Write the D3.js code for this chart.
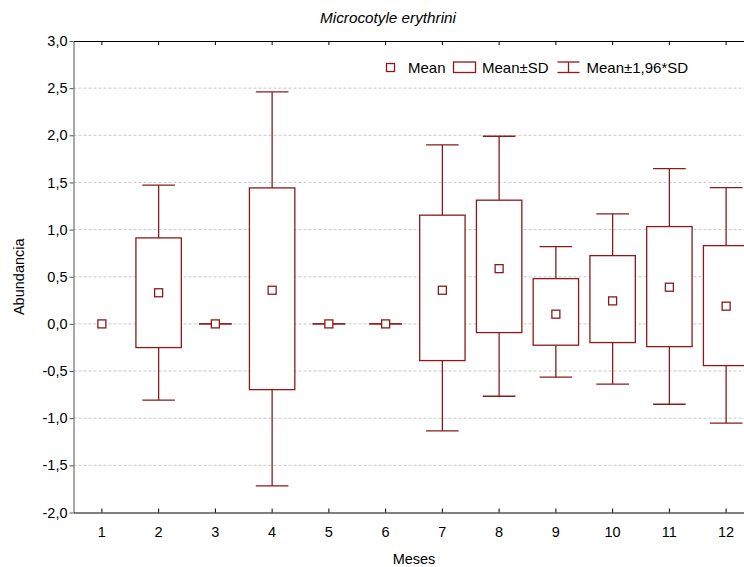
<!DOCTYPE html>
<html>
<head>
<meta charset="utf-8">
<script src="https://cdn.jsdelivr.net/npm/d3@7"></script>
<style>
body { margin: 0; background: #fff; }
text { font-family: "Liberation Sans", Arial, sans-serif; fill: #000; }
</style>
</head>
<body>
<svg id="graph" width="744" height="567"></svg>
<script>
// values
var months = ["1", "2", "3", "4", "5", "6", "7", "8", "9", "10", "11", "12"];
var means  = [0, 0.33, 0, 0.357, 0, 0, 0.357, 0.586, 0.103, 0.244, 0.389, 0.188];
var sdLow  = [null, -0.251, 0, -0.697, 0, 0, -0.389, -0.092, -0.226, -0.198, -0.241, -0.442];
var sdHigh = [null, 0.912, 0, 1.442, 0, 0, 1.153, 1.312, 0.48, 0.724, 1.032, 0.83];
var ciLow  = [null, -0.809, 0, -1.718, 0, 0, -1.135, -0.767, -0.565, -0.639, -0.852, -1.053];
var ciHigh = [null, 1.471, 0, 2.46, 0, 0, 1.898, 1.99, 0.82, 1.166, 1.647, 1.445];
var yTicks = [3, 2.5, 2, 1.5, 1, 0.5, 0, -0.5, -1, -1.5, -2];

var RED = "#8b1a1a";
var svg = d3.select("#graph");
var pLeft = 73.5, pTop = 41, pBottom = 512.5, pRight = 754.5;

var x = d3.scaleBand().domain(months).range([pLeft, pRight]);
var y = d3.scaleLinear().domain([-2, 3]).range([pBottom, pTop]);
var fmt = function(d) { return d3.format(".1f")(d).replace(".", ",").replace("−", "-"); };

var dat = months.map(function(m, i) {
    return {m: m, mean: means[i], lo: sdLow[i], hi: sdHigh[i], clo: ciLow[i], chi: ciHigh[i]};
});

// grid
svg.append("g")
    .selectAll("line")
    .data(yTicks.filter(function(d) { return d > -2 && d < 3; }))
    .enter()
    .append("line")
    .attr("x1", pLeft).attr("x2", 744)
    .attr("y1", function(d) { return y(d); })
    .attr("y2", function(d) { return y(d); })
    .attr("stroke", "#c8c8c8")
    .attr("stroke-dasharray", "3,2");

// y axis
var yAxis = svg.append("g")
    .attr("transform", "translate(" + pLeft + ",0)")
    .call(d3.axisLeft(y).tickValues(yTicks).tickFormat(fmt).tickSize(4).tickSizeOuter(0));
yAxis.select(".domain").attr("stroke", "#555");
yAxis.selectAll(".tick line").attr("stroke", "#555");
yAxis.selectAll("text").style("font-size", "14.5px").attr("x", -6).attr("fill", "#000");

// top and bottom frame with inward ticks
var topAxis = svg.append("g")
    .attr("transform", "translate(0," + pTop + ")")
    .call(d3.axisBottom(x).tickSize(4).tickSizeOuter(0).tickFormat(""));
var botAxis = svg.append("g")
    .attr("transform", "translate(0," + pBottom + ")")
    .call(d3.axisTop(x).tickSize(4).tickSizeOuter(0).tickFormat(""));
[topAxis, botAxis].forEach(function(a) {
    a.select(".domain").attr("stroke", "#000");
    a.selectAll(".tick line").attr("stroke", "#000");
});

// x labels
svg.append("g")
    .selectAll("text")
    .data(months)
    .enter()
    .append("text")
    .attr("x", function(d) { return x(d) + x.bandwidth() / 2; })
    .attr("y", 537)
    .attr("text-anchor", "middle")
    .style("font-size", "14.5px")
    .text(function(d) { return d; });

var bw = x.bandwidth() * 0.8, cw = x.bandwidth() * 0.575, ms = 8;
var cx = function(d) { return x(d.m) + x.bandwidth() / 2; };
var withSd = dat.filter(function(d) { return d.lo !== null; });

var g = svg.append("g").attr("stroke", RED).attr("stroke-width", 1.3).attr("fill", "none");

// whiskers
g.selectAll("line.stem")
    .data(withSd)
    .enter()
    .append("line")
    .attr("x1", cx).attr("x2", cx)
    .attr("y1", function(d) { return y(d.chi); })
    .attr("y2", function(d) { return y(d.clo); });
g.selectAll("line.capHi")
    .data(withSd)
    .enter()
    .append("line")
    .attr("x1", function(d) { return cx(d) - cw / 2; })
    .attr("x2", function(d) { return cx(d) + cw / 2; })
    .attr("y1", function(d) { return y(d.chi); })
    .attr("y2", function(d) { return y(d.chi); });
g.selectAll("line.capLo")
    .data(withSd)
    .enter()
    .append("line")
    .attr("x1", function(d) { return cx(d) - cw / 2; })
    .attr("x2", function(d) { return cx(d) + cw / 2; })
    .attr("y1", function(d) { return y(d.clo); })
    .attr("y2", function(d) { return y(d.clo); });

// boxes
g.selectAll("rect.box")
    .data(withSd)
    .enter()
    .append("rect")
    .attr("x", function(d) { return cx(d) - bw / 2; })
    .attr("width", bw)
    .attr("y", function(d) { return y(d.hi); })
    .attr("height", function(d) { return y(d.lo) - y(d.hi); })
    .attr("fill", "#fff");

// means
g.selectAll("rect.mean")
    .data(dat)
    .enter()
    .append("rect")
    .attr("x", function(d) { return cx(d) - ms / 2; })
    .attr("y", function(d) { return y(d.mean) - ms / 2; })
    .attr("width", ms)
    .attr("height", ms)
    .attr("fill", "#fff");

// titles
svg.append("text")
    .attr("x", 388).attr("y", 23)
    .attr("text-anchor", "middle")
    .attr("textLength", 136).attr("lengthAdjust", "spacingAndGlyphs")
    .style("font-size", "14.5px").style("font-style", "italic")
    .text("Microcotyle erythrini");
svg.append("text")
    .attr("x", 414).attr("y", 564)
    .attr("text-anchor", "middle")
    .style("font-size", "14.5px")
    .text("Meses");
svg.append("text")
    .attr("transform", "translate(24," + ((pTop + pBottom) / 2) + ") rotate(-90)")
    .attr("text-anchor", "middle")
    .style("font-size", "14.5px")
    .text("Abundancia");

// legend
var lg = svg.append("g");
lg.append("rect").attr("x", 386.5).attr("y", 63.5).attr("width", 8).attr("height", 8)
    .attr("fill", "#fff").attr("stroke", RED).attr("stroke-width", 1.3);
lg.append("text").attr("x", 408).attr("y", 72.5).style("font-size", "15px").text("Mean");
lg.append("rect").attr("x", 453.5).attr("y", 62).attr("width", 22).attr("height", 10.5)
    .attr("fill", "#fff").attr("stroke", RED).attr("stroke-width", 1.3);
lg.append("text").attr("x", 482).attr("y", 72.5).style("font-size", "15px").text("Mean±SD");
var wl = lg.append("g").attr("stroke", RED).attr("stroke-width", 1.3);
wl.append("line").attr("x1", 557.5).attr("x2", 579.5).attr("y1", 62).attr("y2", 62);
wl.append("line").attr("x1", 557.5).attr("x2", 579.5).attr("y1", 72.5).attr("y2", 72.5);
wl.append("line").attr("x1", 568.5).attr("x2", 568.5).attr("y1", 62).attr("y2", 72.5);
lg.append("text").attr("x", 586.5).attr("y", 72.5).style("font-size", "15px").text("Mean±1,96*SD");
</script>
</body>
</html>
